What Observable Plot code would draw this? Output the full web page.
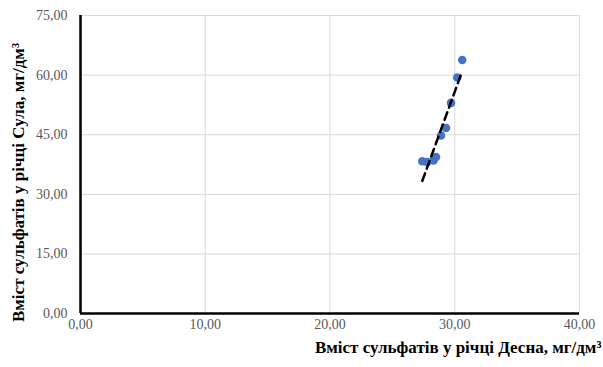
<!DOCTYPE html>
<html>
<head>
<meta charset="utf-8">
<script src="https://cdn.jsdelivr.net/npm/d3@7"></script>
<script src="https://cdn.jsdelivr.net/npm/@observablehq/plot@0.6"></script>
<style>
  html, body { margin: 0; padding: 0; background: #fff; }
  svg, svg text, svg g { font-family: "Liberation Serif", "Times New Roman", serif !important; }
</style>
</head>
<body>
<div id="chart"></div>
<script>
const xValues = [27.4, 27.8, 28.3, 28.5, 28.9, 29.3, 29.7, 30.2, 30.6];
const yValues = [38.3, 38.1, 38.5, 39.4, 44.8, 46.7, 53.0, 59.4, 63.8];
const xTicks = [0, 10, 20, 30, 40];
const yTicks = [0, 15, 30, 45, 60, 75];
const xLabel = "Вміст сульфатів у річці Десна, мг/дм³";
const yLabel = "Вміст сульфатів у річці Сула, мг/дм³";

const data = xValues.map((x, i) => ({x, y: yValues[i]}));
const fmt = v => d3.format(".2f")(v).replace(".", ",");
const serif = "Liberation Serif";

const chart = Plot.plot({
  width: 603,
  height: 367,
  marginLeft: 80,
  marginRight: 24,
  marginTop: 15,
  marginBottom: 54,
  style: {fontSize: "14px", background: "#fff", fontFamily: serif},
  x: {domain: [0, 40]},
  y: {domain: [0, 75]},
  marks: [
    Plot.gridX(xTicks, {stroke: "#d9d9d9", strokeOpacity: 1, strokeWidth: 1}),
    Plot.gridY(yTicks, {stroke: "#d9d9d9", strokeOpacity: 1, strokeWidth: 1}),
    Plot.axisX(xTicks, {tickSize: 0, tickPadding: 6, tickFormat: fmt, label: null, fill: "#595959", fontSize: 14, fontFamily: serif, fontVariant: "normal"}),
    Plot.axisY(yTicks, {tickSize: 0, tickPadding: 13, tickFormat: fmt, label: null, fill: "#595959", fontSize: 14, fontFamily: serif, fontVariant: "normal"}),
    Plot.ruleX([0], {stroke: "#000", strokeWidth: 2.5}),
    Plot.ruleY([0], {stroke: "#000", strokeWidth: 2.5}),
    Plot.dot(data, {x: "x", y: "y", r: 4.3, fill: "#4472C4", stroke: "none"}),
    Plot.linearRegressionY(data, {x: "x", y: "y", ci: 0, stroke: "#000", strokeWidth: 2.5, strokeDasharray: "8,5"}),
    Plot.text([xLabel], {frameAnchor: "bottom-right", textAnchor: "end", dx: 22, dy: 39, fontWeight: "bold", fontSize: 17, fontFamily: serif, fill: "#000"}),
    Plot.text([yLabel], {frameAnchor: "left", textAnchor: "middle", rotate: -90, dx: -62, dy: 18, fontWeight: "bold", fontSize: 17, fontFamily: serif, fill: "#000"})
  ]
});
document.getElementById("chart").appendChild(chart);
</script>
</body>
</html>
